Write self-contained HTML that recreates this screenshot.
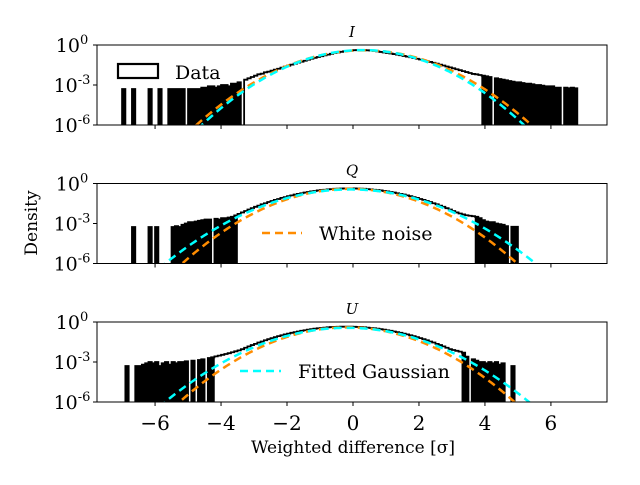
<!DOCTYPE html>
<html><head><meta charset="utf-8"><style>
body{margin:0;background:#fff}
svg text{font-family:"DejaVu Serif","Liberation Serif",serif;fill:#000}
</style></head><body>
<svg id="chart" width="640" height="480" xmlns="http://www.w3.org/2000/svg"></svg>
<script>
// Panel titles
const panelNames = ["I","Q","U"];
// Bins: width 0.1 from -7.0 to 7.0 (140 bins); values are log10(density), -9 = empty
const binStart = -7.0, binWidth = 0.1;
const logI = [
-3.3,-9,-9,-3.3,-9,-9,-9,-9,-3.3,-9,
-9,-3.3,-9,-9,-3.3,-3.3,-3.3,-3.3,-3.3,-9,
-3.3,-3.3,-3.3,-3.3,-3.2,-3.2,-3.1,-3.1,-3.2,-3.1,
-3.0,-3.0,-3.1,-2.9,-2.9,-2.8,-9,-2.6,-2.5,-2.4,
-2.3,-2.2,-2.15,-2.05,-2.0,-1.92,-1.85,-1.78,-1.7,-1.62,
-1.55,-1.47,-1.4,-1.32,-1.25,-1.18,-1.1,-1.03,-0.96,-0.9,
-0.84,-0.78,-0.72,-0.66,-0.61,-0.56,-0.51,-0.47,-0.44,-0.41,
-0.39,-0.38,-0.38,-0.39,-0.4,-0.42,-0.45,-0.48,-0.52,-0.56,
-0.6,-0.64,-0.68,-0.72,-0.77,-0.82,-0.87,-0.92,-0.98,-1.03,
-1.09,-1.15,-1.21,-1.27,-1.33,-1.4,-1.47,-1.54,-1.61,-1.68,
-1.75,-1.82,-1.89,-1.96,-2.03,-2.1,-2.17,-2.2,-2.25,-2.3,
-2.35,-2.4,-9,-2.5,-2.55,-2.6,-2.65,-2.7,-2.75,-2.8,
-2.8,-2.85,-2.9,-2.9,-2.95,-3.0,-3.0,-3.05,-3.1,-3.1,
-3.1,-3.2,-3.2,-9,-3.2,-3.25,-3.2,-3.25,-9,-9];
const logQ = [
-9,-9,-9,-3.26,-9,-9,-9,-9,-3.26,-9,
-3.26,-9,-9,-9,-9,-3.26,-3.2,-3.26,-3.1,-3.0,
-2.9,-2.9,-2.85,-2.8,-2.75,-2.7,-2.7,-9,-2.65,-2.7,
-2.6,-2.6,-2.55,-2.5,-2.39,-2.28,-2.17,-2.06,-1.95,-1.85,
-1.75,-1.66,-1.56,-1.48,-1.39,-1.31,-1.23,-1.16,-1.08,-1.02,
-0.95,-0.89,-0.83,-0.78,-0.73,-0.68,-0.64,-0.59,-0.56,-0.52,
-0.49,-0.47,-0.44,-0.42,-0.40,-0.39,-0.38,-0.37,-0.37,-0.37,
-0.37,-0.38,-0.39,-0.40,-0.42,-0.44,-0.47,-0.49,-0.52,-0.56,
-0.59,-0.64,-0.68,-0.73,-0.78,-0.83,-0.89,-0.95,-1.02,-1.08,
-1.16,-1.23,-1.31,-1.39,-1.48,-1.56,-1.66,-1.75,-1.85,-1.95,
-2.06,-2.17,-2.25,-2.32,-2.38,-2.42,-2.45,-2.5,-2.6,-2.75,
-2.85,-2.9,-2.9,-3.0,-3.05,-3.1,-3.2,-9,-3.25,-3.25,
-9,-9,-9,-9,-9,-9,-9,-9,-9,-9,
-9,-9,-9,-9,-9,-9,-9,-9,-9,-9];
const logU = [
-9,-3.3,-9,-9,-3.3,-3.3,-3.2,-3.1,-3.0,-3.1,
-3.0,-3.3,-3.1,-3.0,-3.2,-3.0,-3.1,-3.0,-3.0,-2.95,
-9,-2.9,-9,-2.85,-2.8,-9,-2.7,-2.65,-2.58,-2.52,
-2.46,-2.40,-2.34,-2.27,-2.20,-2.13,-2.04,-1.93,-1.83,-1.73,
-1.64,-1.54,-1.46,-1.37,-1.29,-1.21,-1.14,-1.06,-1.00,-0.93,
-0.87,-0.81,-0.76,-0.71,-0.66,-0.62,-0.57,-0.54,-0.50,-0.47,
-0.45,-0.42,-0.40,-0.38,-0.37,-0.36,-0.35,-0.35,-0.35,-0.35,
-0.36,-0.37,-0.38,-0.40,-0.42,-0.45,-0.47,-0.50,-0.54,-0.57,
-0.62,-0.66,-0.71,-0.76,-0.81,-0.87,-0.93,-1.00,-1.06,-1.14,
-1.21,-1.29,-1.37,-1.46,-1.54,-1.64,-1.73,-1.83,-1.93,-2.04,
-2.1,-2.16,-2.22,-2.3,-2.6,-9,-2.8,-2.9,-3.0,-3.0,
-3.1,-3.0,-3.1,-3.0,-3.2,-3.1,-9,-9,-3.3,-9,
-9,-9,-9,-9,-9,-9,-9,-9,-9,-9,
-9,-9,-9,-9,-9,-9,-9,-9,-9,-9];
// sparse-count tail limits (outside these, fine bins alternate with empty ones)
const sparseLo = [-3.3,-3.5,-4.2];
const sparseHi = [3.9,3.7,3.3];
// Gaussian parameters
const noiseMean = [0.33,-0.1,-0.18], noiseSigma = [1.0,1.0,1.0];
const fitMean = [0.3,-0.08,-0.18], fitSigma = [0.96,1.11,1.09];
const xTicks = [-6,-4,-2,0,2,4,6];
const xTickLabels = ["\u22126","\u22124","\u22122","0","2","4","6"];
const yTicks = [0,-3,-6];

const NS="http://www.w3.org/2000/svg";
const svg=document.getElementById("chart");
function mk(tag,attrs,parent){const e=document.createElementNS(NS,tag);for(const k in attrs)e.setAttribute(k,attrs[k]);(parent||svg).appendChild(e);return e;}
const X0=97,X1=607,xMin=-7.76,xMax=7.70;
const xs=v=>X0+(v-xMin)/(xMax-xMin)*(X1-X0);
const tops=[45,183.5,322], H=80;
const allLogs=[logI,logQ,logU];

for(let p=0;p<3;p++){
  const T=tops[p],B=T+H;
  const ys=l=>T+(0-l)/6*H;
  const g=mk("g",{});
  
  
  const cid="clip"+p;
  const cp=mk("clipPath",{id:cid},g); mk("rect",{x:X0,y:T,width:X1-X0,height:H},cp);
  const pg=mk("g",{"clip-path":"url(#"+cid+")"},g);
  const vals=allLogs[p];
  for(let i=0;i<vals.length;i++){
    const a=binStart+i*binWidth,b=a+binWidth,c=(a+b)/2;
    if(vals[i]>-8 && (c<sparseLo[p]||c>sparseHi[p])){
      const r=mk("rect",{x:xs(a)-0.3,y:ys(vals[i]),width:xs(b)-xs(a)+0.6,height:B+5-ys(vals[i]),fill:"#000"},pg);
      
      
    }
  }
  let d="";
  for(let i=0;i<vals.length;i++){
    const a=binStart+i*binWidth,b=a+binWidth;
    const y=vals[i]>-8?ys(vals[i]):B+5;
    d+=(i===0?"M"+xs(a)+","+(B+5):"")+"L"+xs(a)+","+y+"L"+xs(b)+","+y;
  }
  d+="L"+xs(binStart+vals.length*binWidth)+","+(B+5);
  const hp=mk("path",{d:d,fill:"none",stroke:"#000","stroke-width":1.8},pg);
  
  
  function gauss(m,s,color,name){
    let pd="";
    for(let k=0;k<=400;k++){const x=xMin+(xMax-xMin)*k/400;const v=Math.exp(-(x-m)*(x-m)/(2*s*s))/(s*Math.sqrt(2*Math.PI));const l=Math.max(Math.log10(v),-7);pd+=(k?"L":"M")+xs(x).toFixed(2)+","+ys(l).toFixed(2);}
    const e=mk("path",{d:pd,fill:"none",stroke:color,"stroke-width":2.5,"stroke-dasharray":"8,5"},pg);
    
    
  }
  gauss(noiseMean[p],noiseSigma[p],"#ff8c00","white-noise-curve");
  gauss(fitMean[p],fitSigma[p],"#00ffff","fitted-gaussian-curve");
  const fr=mk("rect",{x:X0,y:T,width:X1-X0,height:H,fill:"none",stroke:"#000","stroke-width":1},g);
  
  
  xTicks.forEach((t,j)=>{
    mk("line",{x1:xs(t),x2:xs(t),y1:B,y2:B+4,stroke:"#000"},g);
    if(p===2){const tx=mk("text",{x:xs(t),y:B+28,"font-size":20,"text-anchor":"middle"},g);tx.textContent=xTickLabels[j];
      
      }
  });
  yTicks.forEach(t=>{
    mk("line",{x1:X0-4,x2:X0,y1:ys(t),y2:ys(t),stroke:"#000"},g);
    const tx=mk("text",{x:72,y:ys(t)+7,"font-size":19,"text-anchor":"middle"},g);
    tx.textContent="10";
    const sp=mk("tspan",{"font-size":13,dy:-8},tx); sp.textContent=String(t);
    
    
  });
  const tt=mk("text",{x:352,y:T-8,"font-size":15,"font-style":"italic","text-anchor":"middle"},g);
  tt.textContent=panelNames[p];
  
  
}
let lg=mk("g",{});


mk("rect",{x:118,y:64,width:40,height:14,fill:"none",stroke:"#000","stroke-width":2.2},lg);
let lt=mk("text",{x:175,y:79,"font-size":19},lg); lt.textContent="Data";
lg=mk("g",{});


mk("line",{x1:262,x2:302,y1:233,y2:233,stroke:"#ff8c00","stroke-width":2.5,"stroke-dasharray":"8,5"},lg);
lt=mk("text",{x:319,y:240,"font-size":19},lg); lt.textContent="White noise";
lg=mk("g",{});


mk("line",{x1:240,x2:281,y1:371,y2:371,stroke:"#00ffff","stroke-width":2.5,"stroke-dasharray":"8,5"},lg);
lt=mk("text",{x:298,y:378,"font-size":19},lg); lt.textContent="Fitted Gaussian";
let xl=mk("text",{x:353,y:453,"font-size":17,"text-anchor":"middle"});
xl.textContent="Weighted difference [\u03c3]";


let yl=mk("text",{x:0,y:0,"font-size":17,"text-anchor":"middle",transform:"translate(37,223) rotate(-90)"});
yl.textContent="Density";


</script>
</body></html>
